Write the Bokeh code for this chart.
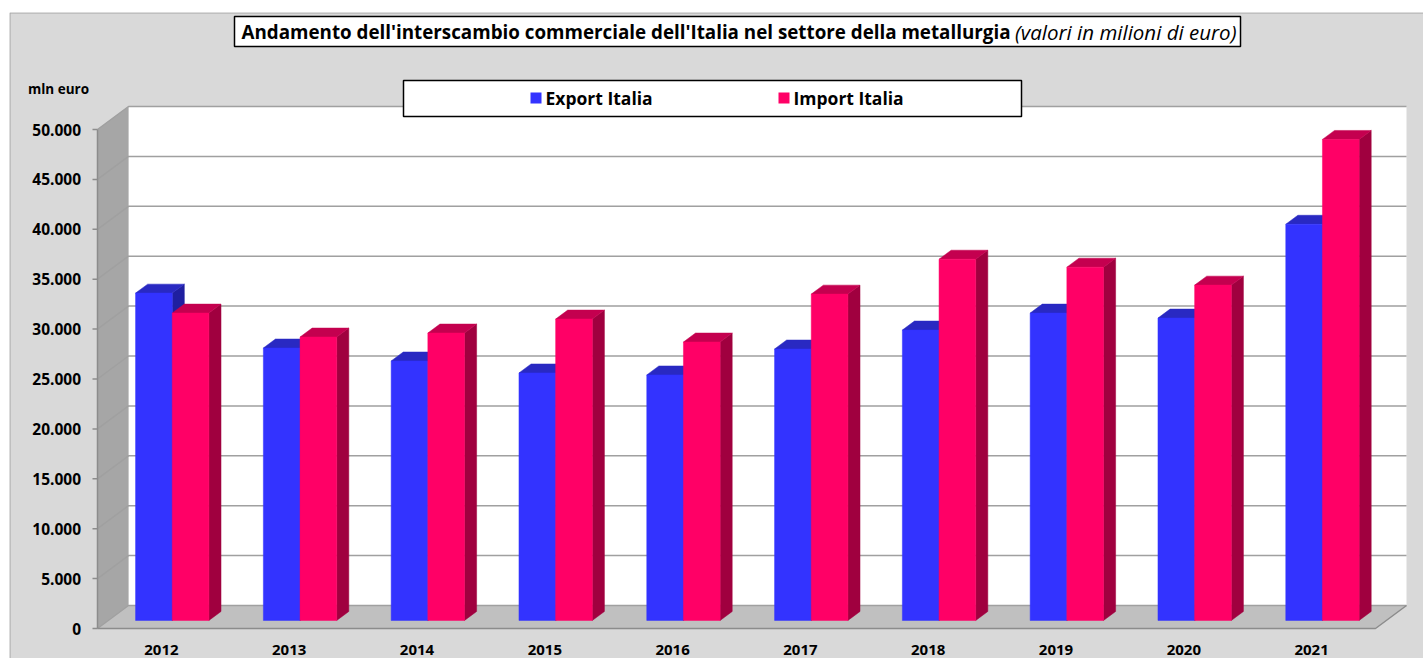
from bokeh.plotting import figure
from bokeh.models import Range1d, Spacer
from bokeh.layouts import column, row
from bokeh.core.properties import value
from bokeh.embed import file_html
from bokeh.resources import INLINE

# ---------------- data ----------------
years = ["2012", "2013", "2014", "2015", "2016", "2017", "2018", "2019", "2020", "2021"]
export_italia = [32800, 27300, 26000, 24800, 24600, 27200, 29100, 30800, 30300, 39700]
import_italia = [30800, 28400, 28800, 30200, 27900, 32700, 36200, 35400, 33600, 48200]
series_names = ["Export Italia", "Import Italia"]
y_ticks = [0, 5000, 10000, 15000, 20000, 25000, 30000, 35000, 40000, 45000, 50000]
y_tick_labels = ["0", "5.000", "10.000", "15.000", "20.000", "25.000", "30.000",
                 "35.000", "40.000", "45.000", "50.000"]
title_main = "Andamento dell'interscambio commerciale dell'Italia nel settore  della metallurgia"
title_sub = "(valori in milioni di euro)"
y_unit = "mln euro"

# ---------------- layout / style ----------------
OFF_X, OFF_Y = 9, 12            # figure position on the page
W, H = 1423 - OFF_X, 658 - OFF_Y
AX_PX, ZERO_PY = 97, 628        # page position of front axis / value 0
PX_CAT = 127.8                  # px per category
PX_VAL = 0.00998                # px per value unit
FONT = "Open Sans"
BG = "#D9D9D9"
GRID = "#A0A0A0"
EDGE = "#8C8C8C"

n = len(years)
x_lo, x_hi = -0.5, n - 0.5
y_top = y_ticks[-1]


def rx(px):  # page px -> data x
    return x_lo + (px - AX_PX) / PX_CAT


def ry(py):  # page py -> data y
    return (ZERO_PY - py) / PX_VAL


DX = 31 / PX_CAT        # oblique depth offset (x units)
DY = 23 / PX_VAL        # oblique depth offset (y units)
D0, D1 = 0.35, 0.39     # bar depth start / thickness (fraction of full depth)
BAR_W = 0.287

p = figure(width=W, height=H, output_backend="svg", toolbar_location=None,
           x_range=Range1d(rx(OFF_X), rx(OFF_X + W)),
           y_range=Range1d(ry(OFF_Y + H), ry(OFF_Y)),
           min_border=0)
p.background_fill_color = BG
p.border_fill_color = BG
p.outline_line_color = None
p.xaxis.visible = False
p.yaxis.visible = False
p.xgrid.visible = False
p.ygrid.visible = False

# chart-area border (top / left)
p.line([rx(9.5), rx(9.5), rx(1423)], [ry(658), ry(12.5), ry(12.5)],
       line_color="#A6A6A6", line_width=1)

# walls and floor
p.quad(left=[x_lo + DX], right=[x_hi + DX], bottom=[DY], top=[y_top + DY],
       fill_color="#FFFFFF", line_color=None)
p.patch([x_lo, x_lo, x_lo + DX, x_lo + DX], [0, y_top, y_top + DY, DY],
        fill_color="#A6A6A6", line_color=None)
p.patch([x_lo, x_hi, x_hi + DX, x_lo + DX], [0, 0, DY, DY],
        fill_color="#C0C0C0", line_color=None)

gx, gy = [], []
for t in y_ticks:
    gx.append([x_lo, x_lo + DX, x_hi + DX])
    gy.append([t, t + DY, t + DY])
p.multi_line(gx, gy, line_color=GRID, line_width=1.5)
p.line([x_lo, x_hi, x_hi + DX], [0, 0, DY], line_color=EDGE, line_width=1.5)

# value axis: line, ticks, labels
p.line([x_lo, x_lo], [0, y_top], line_color=EDGE, line_width=1.5)
p.segment(x0=[rx(92)] * len(y_ticks), y0=y_ticks, x1=[x_lo] * len(y_ticks), y1=y_ticks,
          line_color=EDGE, line_width=1.5)
p.text(x=[rx(80.5)] * len(y_ticks), y=y_ticks, text=y_tick_labels, text_font=value(FONT),
       text_font_style="bold", text_font_size="15.5px", text_align="right",
       text_baseline="middle", text_color="#000000")

# category labels
p.text(x=list(range(n)), y=[ry(649)] * n, text=years, text_font=value(FONT),
       text_font_style="bold", text_font_size="15px", text_align="center",
       text_baseline="middle", text_color="#000000")

# 3D bars
face_colors = [("#3333FF", "#2929C2", "#1F1FA0"), ("#FF0066", "#C4004F", "#A0003F")]
for s, vals in enumerate([export_italia, import_italia]):
    front, top, side = face_colors[s]
    L, R, B, T = [], [], [], []
    txs, tys, sxs, sys_ = [], [], [], []
    for i, v in enumerate(vals):
        l = i - BAR_W + s * BAR_W + D0 * DX
        r = l + BAR_W
        b = D0 * DY
        tp = v + D0 * DY
        L.append(l); R.append(r); B.append(b); T.append(tp)
        txs.append([l, r, r + D1 * DX, l + D1 * DX])
        tys.append([tp, tp, tp + D1 * DY, tp + D1 * DY])
        sxs.append([r, r, r + D1 * DX, r + D1 * DX])
        sys_.append([b, tp, tp + D1 * DY, b + D1 * DY])
    p.patches(sxs, sys_, fill_color=side, line_color=side, line_width=0.5)
    p.patches(txs, tys, fill_color=top, line_color=top, line_width=0.5)
    p.quad(left=L, right=R, bottom=B, top=T, fill_color=front, line_color=front,
           line_width=0.5)

# title box
p.quad(left=[rx(234)], right=[rx(1240)], bottom=[ry(46)], top=[ry(16)],
       fill_color="#FFFFFF", line_color="#000000", line_width=1.5)
p.text(x=[rx(241)], y=[ry(31)], text=[title_main], text_font=value(FONT),
       text_font_style="bold", text_font_size="18.8px", text_align="left",
       text_baseline="middle", text_color="#000000")
p.text(x=[rx(1236)], y=[ry(31)], text=[title_sub], text_font=value(FONT),
       text_font_style="italic", text_font_size="20.5px", text_align="right",
       text_baseline="middle", text_color="#000000")

# unit label
p.text(x=[rx(58)], y=[ry(88)], text=[y_unit], text_font=value(FONT),
       text_font_style="bold", text_font_size="13.5px", text_align="center",
       text_baseline="middle", text_color="#000000")

# legend box
p.quad(left=[rx(403)], right=[rx(1021)], bottom=[ry(116)], top=[ry(80)],
       fill_color="#FFFFFF", line_color="#000000", line_width=1.5)
leg_sq_x = [530, 778]
leg_colors = [face_colors[0][0], face_colors[1][0]]
for k in range(2):
    p.quad(left=[rx(leg_sq_x[k])], right=[rx(leg_sq_x[k] + 11)],
           bottom=[ry(103)], top=[ry(92)], fill_color=leg_colors[k], line_color=None)
    p.text(x=[rx(leg_sq_x[k] + 15)], y=[ry(97.5)], text=[series_names[k]],
           text_font=value(FONT), text_font_style="bold", text_font_size="17.5px",
           text_align="left", text_baseline="middle", text_color="#000000")

layout = column(Spacer(height=OFF_Y), row(Spacer(width=OFF_X), p))
open("out.html", "w").write(file_html(layout, INLINE))
